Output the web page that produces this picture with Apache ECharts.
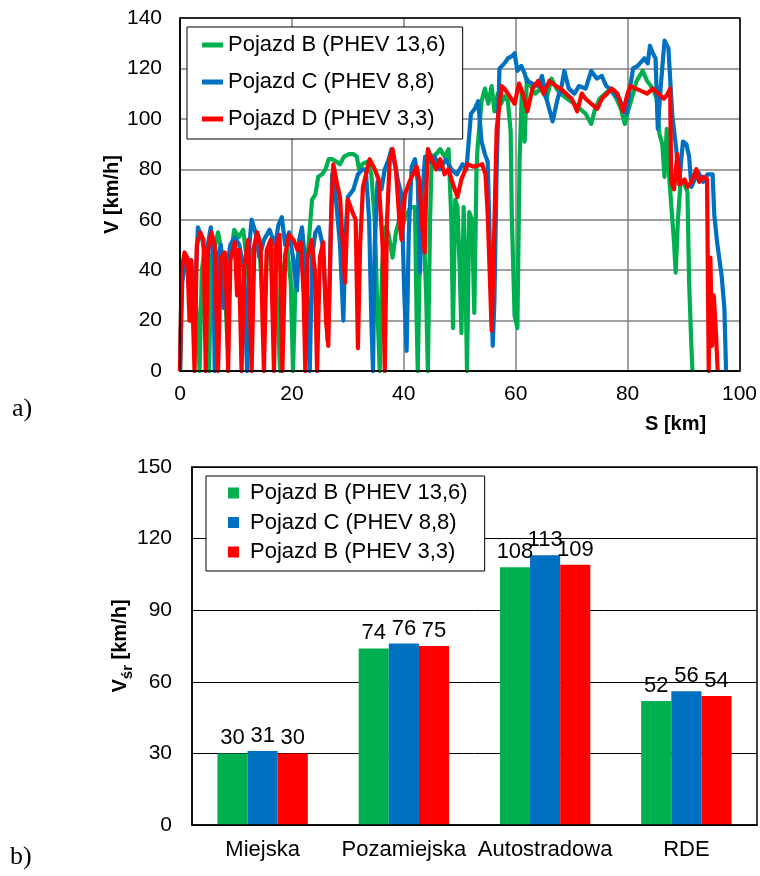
<!DOCTYPE html>
<html>
<head>
<meta charset="utf-8">
<script src="https://cdn.jsdelivr.net/npm/echarts@6/dist/echarts.min.js"></script>
<style>
  html, body { margin: 0; padding: 0; background: #fff; }
  #speed { width: 760px; height: 440px; }
  #avg { width: 760px; height: 436px; }
</style>
</head>
<body>
<div id="speed"></div>
<div id="avg"></div>
<script>
// Speed traces: [distance km, speed km/h]
const traceB = [[0,0],[0.3,40],[1,45],[2,43],[2.8,30],[3.5,0],[3.9,40],[4.4,48],[5.2,0],[5.6,45],[6.3,50],[6.8,55],[7.4,48],[8,35],[8.5,10],[9,45],[9.7,56],[10.5,53],[11.3,56],[11.9,45],[12.5,30],[13,48],[13.8,52],[14.3,45],[15,20],[15.5,45],[16.3,50],[17,45],[17.9,0],[18.4,40],[19.2,48],[19.8,35],[20.2,0],[20.7,40],[21.4,50],[22.2,48],[22.8,45],[23.6,68],[24.2,70],[24.7,77],[25.4,78],[26,80],[26.6,84],[27.2,84],[28,83],[28.6,82],[29.3,85],[30.2,86],[31,86],[31.6,85],[32,80],[32.6,82],[33.5,83],[34.2,78],[34.8,60],[35.2,30],[35.7,0],[36.1,40],[36.6,57],[37.2,55],[37.6,50],[38,45],[38.6,55],[39.2,60],[39.8,58],[40.5,62],[41.2,65],[42,65],[42.3,20],[42.5,0],[42.9,50],[43.5,60],[44,30],[44.3,0],[44.7,60],[45,85],[45.8,86],[46.5,88],[47.3,85],[48,88],[48.5,60],[48.8,17],[49.2,68],[49.6,65],[50,40],[50.3,15],[50.7,65],[51,40],[51.3,0],[51.7,63],[52.2,60],[52.6,23],[53,80],[53.2,89],[53.9,107],[54.5,112],[55.1,106],[55.7,113],[56.2,103],[56.8,110],[57.4,106],[58,109],[58.6,107],[59.1,95],[59.3,62],[59.8,22],[60.3,17],[60.7,84],[61.1,111],[61.6,91],[62,116],[62.7,113],[63.5,110],[64.5,112],[65.5,108],[66.4,116],[67.3,112],[68,110],[69.2,108],[70.5,106],[71.5,104],[72.5,102],[73.5,98],[74.2,104],[75,108],[76,110],[77,112],[78,108],[78.8,104],[79.5,98],[80.2,104],[81,110],[81.6,115],[82.7,119],[83.5,115],[84.5,112],[85.2,108],[85.7,94],[86.2,90],[86.6,77],[87,96],[87.5,75],[88,60],[88.3,51],[88.6,39],[89,60],[89.5,76],[90.2,74],[90.7,71],[91,35],[91.4,10],[91.6,0]];

const traceC = [[0,0],[0.4,35],[1,45],[1.8,42],[2.5,20],[3.2,57],[4,52],[4.6,45],[5.5,57],[6,40],[6.2,0],[6.7,45],[7.3,50],[7.8,25],[8.3,40],[9,50],[9.8,53],[10.6,50],[11.4,40],[12,0],[12.4,50],[12.8,60],[13.5,55],[14.2,45],[15,52],[16,56],[17,50],[17.6,58],[18.2,61],[18.8,50],[19.5,55],[20.2,45],[20.9,32],[21.3,52],[21.8,57],[22.5,40],[23.2,0],[23.6,45],[24.2,55],[24.8,57],[25.5,50],[26,30],[26.4,12],[26.8,40],[27.2,78],[27.8,70],[28.6,50],[29.2,20],[29.6,55],[30,69],[31,72],[31.8,78],[32.6,80],[33.2,80],[33.8,60],[34.2,20],[34.5,0],[34.8,50],[35.3,75],[36,72],[36.6,80],[37.3,84],[37.8,88],[38.4,82],[39,75],[39.6,70],[40.1,30],[40.5,8],[40.9,55],[41.4,81],[42,84],[42.5,75],[42.9,39],[43.3,70],[43.8,85],[44.6,83],[45.5,85],[46.5,80],[47.5,84],[48.5,80],[49.5,78],[50.5,82],[51.2,80],[52,102],[52.7,104],[53.3,107],[53.9,91],[54.5,86],[55,83],[55.5,40],[55.9,10],[56.2,28],[56.6,80],[57.1,120],[58,122],[58.6,124],[59.4,125],[59.8,126],[60.3,119],[61,121],[61.6,118],[62,115],[63,114],[64,113],[64.7,117],[65.5,108],[66.6,99],[67.5,108],[68.2,113],[68.7,119],[69.5,112],[70.5,110],[71.3,113],[72.5,112],[73.5,119],[74.5,116],[75.4,117],[76.2,113],[76.8,112],[77.5,110],[78.5,108],[79.8,102],[80.4,112],[81,120],[81.8,121],[83,124],[83.6,122],[84,129],[84.5,126],[85,124],[85.4,96],[85.9,112],[86.6,131],[87.3,128],[88,101],[88.7,88],[89.2,74],[89.9,91],[90.5,90],[91,85],[91.4,73],[92,76],[92.6,79],[93.5,75],[94.3,78],[95.2,78],[95.5,62],[96,51],[96.8,38],[97.3,25],[97.6,0]];

const traceD = [[0,0],[0.3,40],[0.8,47],[1.3,45],[1.7,20],[2,44],[2.6,0],[3,50],[3.6,55],[4.2,52],[4.6,0],[5,48],[5.6,55],[6.2,50],[6.5,25],[6.8,0],[7.3,45],[8,47],[8.3,30],[8.6,0],[9,44],[9.8,51],[10.2,30],[10.5,48],[11,0],[11.5,42],[12.2,52],[12.8,0],[13.3,50],[13.8,55],[14.4,50],[15,0],[15.5,48],[16.2,52],[16.8,0],[17.2,50],[17.8,54],[18.3,0],[18.8,46],[19.5,54],[20.3,52],[21,48],[21.6,51],[22.1,30],[22.4,0],[22.8,45],[23.5,52],[24.1,40],[24.5,0],[25,45],[25.6,51],[26.1,20],[26.5,10],[27,60],[27.4,82],[28,75],[28.6,69],[29.5,35],[30,68],[31,62],[31.4,60],[31.8,9],[32.2,50],[32.7,73],[33.9,84],[34.8,80],[35.5,76],[36.2,50],[36.6,0],[37,60],[37.5,84],[38,88],[38.6,80],[39.2,60],[39.6,52],[40.2,70],[41,75],[42.3,81],[42.8,75],[43.3,57],[43.75,47],[44,70],[44.3,88],[45,84],[45.8,80],[46.5,84],[47.3,78],[48,80],[48.8,74],[49.6,69],[50.3,76],[51.4,82],[52.5,81],[54,82],[54.6,78],[55,62],[55.4,36],[55.7,16],[56,40],[56.6,96],[57.5,113],[58,112],[58.6,110],[59.8,106],[60.6,114],[61.3,110],[62.1,103],[63,112],[64,115],[65,110],[66,115],[67.2,113],[68,112],[69,110],[70,108],[71,103],[71.8,110],[72.5,108],[73.5,106],[74.6,104],[75.4,108],[76.3,110],[77.2,112],[78.2,110],[79.2,103],[80,110],[80.5,113],[81.5,112],[82.5,111],[83.5,110],[84.5,112],[85.5,110],[86.5,108],[87.2,110],[87.6,112],[87.8,75],[88.3,72],[88.9,86],[89.4,74],[90.2,76],[90.7,73],[91.4,75],[92.3,80],[92.8,75],[93.5,77],[94.2,76],[94.5,0],[94.8,45],[95.1,10],[95.4,30],[95.8,15],[96.1,0]];

const traceNames = ['Pojazd B (PHEV 13,6)', 'Pojazd C (PHEV 8,8)', 'Pojazd D (PHEV 3,3)'];

// Average speed per route section
const sections = ['Miejska', 'Pozamiejska', 'Autostradowa', 'RDE'];
const avgB = [30, 74, 108, 52];
const avgC = [31, 76, 113, 56];
const avgD = [30, 75, 109, 54];
const barNames = ['Pojazd B (PHEV 13,6)', 'Pojazd C (PHEV 8,8)', 'Pojazd B (PHEV 3,3)'];

const COLORS = ['#00B050', '#0070C0', '#FF0000'];
const FONT = 'Arial, "Liberation Sans", sans-serif';
const SERIF = '"Times New Roman", "Liberation Serif", serif';

// ---- a) speed vs distance ----
const speed = echarts.init(document.getElementById('speed'));
speed.setOption({
  animation: false,
  textStyle: { fontFamily: FONT, color: '#000' },
  grid: { left: 180, top: 18, width: 560, height: 353 },
  legend: {
    left: 187, top: 27, orient: 'vertical',
    backgroundColor: '#fff', borderColor: '#000', borderWidth: 1,
    padding: [6, 17, 8, 15],
    itemWidth: 21, itemHeight: 5, itemGap: 13, icon: 'rect',
    textStyle: { fontSize: 22, color: '#000', lineHeight: 24, fontFamily: FONT },
    data: traceNames
  },
  xAxis: {
    type: 'value', min: 0, max: 100, interval: 20,
    axisLine: { show: true, lineStyle: { color: '#000', width: 1.5 } },
    axisTick: { show: false },
    axisLabel: { fontSize: 21, color: '#000', margin: 13, fontFamily: FONT },
    splitLine: { show: true, lineStyle: { color: '#808080', width: 1.5 } }
  },
  yAxis: {
    type: 'value', min: 0, max: 140, interval: 20,
    name: 'V [km/h]', nameLocation: 'middle', nameGap: 58, nameMoveOverlap: false,
    nameTextStyle: { fontSize: 20, fontWeight: 'bold', color: '#000', fontFamily: FONT },
    axisLine: { show: true, lineStyle: { color: '#000', width: 1.5 } },
    axisTick: { show: false },
    axisLabel: { fontSize: 21, color: '#000', margin: 18, fontFamily: FONT },
    splitLine: { show: true, lineStyle: { color: '#808080', width: 1.5 } }
  },
  graphic: [
    { type: 'rect', z: 100, silent: true,
      shape: { x: 180, y: 18, width: 560, height: 353 },
      style: { fill: null, stroke: '#000', lineWidth: 1.5 } },
    { type: 'text', left: 645, top: 414, z: 100,
      style: { text: 'S [km]', font: 'bold 20px ' + FONT, fill: '#000' } },
    { type: 'text', left: 12, top: 396, z: 100,
      style: { text: 'a)', font: '26px ' + SERIF, fill: '#000' } }
  ],
  series: [traceB, traceC, traceD].map((d, i) => ({
    name: traceNames[i], type: 'line', data: d,
    symbol: 'none', showSymbol: false, sampling: null,
    lineStyle: { width: 4.2, color: COLORS[i], join: 'round' },
    itemStyle: { color: COLORS[i] }
  }))
});

// ---- b) average speed per section ----
const avg = echarts.init(document.getElementById('avg'));
avg.setOption({
  animation: false,
  textStyle: { fontFamily: FONT, color: '#000' },
  grid: { left: 192, top: 27, width: 565, height: 358 },
  legend: {
    left: 206, top: 36, orient: 'vertical',
    backgroundColor: '#fff', borderColor: '#000', borderWidth: 1,
    padding: [5, 17, 7, 22],
    itemWidth: 11, itemHeight: 11, itemGap: 5.5, icon: 'rect',
    textStyle: { fontSize: 22, color: '#000', lineHeight: 24, padding: [0, 0, 0, 6], fontFamily: FONT },
    data: barNames
  },
  xAxis: {
    type: 'category', data: sections,
    axisLine: { show: true, lineStyle: { color: '#000', width: 1.5 } },
    axisTick: { show: false },
    axisLabel: { fontSize: 22, color: '#000', margin: 14, interval: 0, fontFamily: FONT },
    splitLine: { show: false }
  },
  yAxis: {
    type: 'value', min: 0, max: 150, interval: 30,
    name: '{v|V}{s|śr}{v| [km/h]}', nameLocation: 'middle', nameGap: 62, nameMoveOverlap: false,
    nameTextStyle: {
      color: '#000',
      rich: {
        v: { fontSize: 20, fontWeight: 'bold', fontFamily: FONT, lineHeight: 24, verticalAlign: 'bottom' },
        s: { fontSize: 15, fontWeight: 'bold', fontFamily: FONT, lineHeight: 24, verticalAlign: 'bottom', padding: [0, 0, -5, 0] }
      }
    },
    axisLine: { show: true, lineStyle: { color: '#000', width: 1.5 } },
    axisTick: { show: false },
    axisLabel: { fontSize: 21, color: '#000', margin: 20, fontFamily: FONT },
    splitLine: { show: true, lineStyle: { color: '#000', width: 1 } }
  },
  graphic: [
    { type: 'rect', z: 100, silent: true,
      shape: { x: 192, y: 27, width: 565, height: 358 },
      style: { fill: null, stroke: '#000', lineWidth: 1.5 } },
    { type: 'text', left: 10, top: 404, z: 100,
      style: { text: 'b)', font: '26px ' + SERIF, fill: '#000' } }
  ],
  series: [avgB, avgC, avgD].map((d, i) => ({
    name: barNames[i], type: 'bar', data: d,
    barGap: '0%', barCategoryGap: '36%',
    itemStyle: { color: COLORS[i] },
    label: { show: true, position: 'top', distance: 4, fontSize: 22, color: '#000', fontFamily: FONT }
  }))
});
</script>
</body>
</html>
